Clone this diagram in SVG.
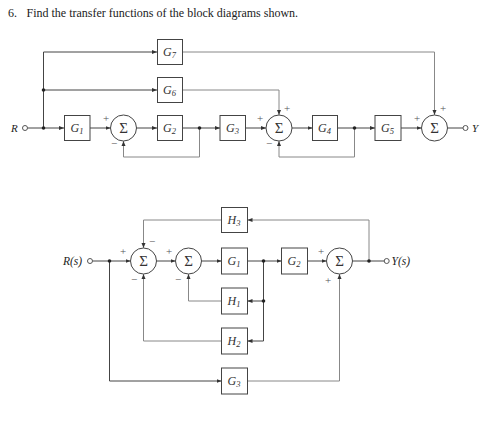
<svg xmlns="http://www.w3.org/2000/svg" width="498" height="438" viewBox="0 0 498 438">
<defs>
<marker id="ar" markerWidth="5" markerHeight="5" refX="5" refY="2.5" orient="auto" markerUnits="userSpaceOnUse">
<path d="M0,0.5 L5,2.5 L0,4.5 z" fill="#333"/>
</marker>
<style>
.ln{fill:none;stroke:#444;stroke-width:1}
.lt{fill:none;stroke:#888;stroke-width:1}
.bx{fill:#fff;stroke:#444;stroke-width:1}
.sm{fill:#fff;stroke:#444;stroke-width:1}
.tm{font-family:"Liberation Serif","Times New Roman",serif;fill:#222}
.lb{font-family:"Liberation Serif","Times New Roman",serif;font-style:italic;font-size:12px;fill:#333;text-anchor:middle}
.sub{font-size:8.5px}
.sig{font-family:"Liberation Serif","Times New Roman",serif;font-size:15px;fill:#333;text-anchor:middle}
.pm{font-family:"Liberation Serif","Times New Roman",serif;font-size:11px;fill:#555;text-anchor:middle}
.dot{fill:#222}
.io{fill:#fff;stroke:#555;stroke-width:1}
</style>
</defs>
<rect width="498" height="438" fill="#fff"/>
<text class="tm" x="8" y="17" font-size="12">6.</text>
<text class="tm" x="26.5" y="17" font-size="12">Find the transfer functions of the block diagrams shown.</text>

<g id="connectors">
<!-- top diagram -->
<path class="ln" d="M27.5,128 H64" marker-end="url(#ar)"/>
<path class="ln" d="M43.5,128 V52 H157" marker-end="url(#ar)"/>
<path class="ln" d="M43.5,90 H157" marker-end="url(#ar)"/>
<path class="ln" d="M90,128 H110.5" marker-end="url(#ar)"/>
<path class="ln" d="M136.5,128 H157" marker-end="url(#ar)"/>
<path class="ln" d="M182.5,128 H220" marker-end="url(#ar)"/>
<path class="lt" d="M199.5,128 V157 H123.5 V141" marker-end="url(#ar)"/>
<path class="ln" d="M245.5,128 H266" marker-end="url(#ar)"/>
<path class="lt" d="M182.5,90 H279 V115" marker-end="url(#ar)"/>
<path class="ln" d="M292,128 H312.5" marker-end="url(#ar)"/>
<path class="ln" d="M337.5,128 H375" marker-end="url(#ar)"/>
<path class="lt" d="M354.5,128 V157 H279 V141" marker-end="url(#ar)"/>
<path class="ln" d="M401,128 H421.5" marker-end="url(#ar)"/>
<path class="lt" d="M182.5,52 H434.5 V115" marker-end="url(#ar)"/>
<path class="ln" d="M447.5,128 H463"/>
<circle class="dot" cx="43.5" cy="128" r="1.8"/>
<circle class="dot" cx="43.5" cy="90" r="1.8"/>
<circle class="dot" cx="199.5" cy="128" r="1.8"/>
<circle class="dot" cx="354.5" cy="128" r="1.8"/>
<!-- bottom diagram -->
<path class="ln" d="M92.5,261 H130.5" marker-end="url(#ar)"/>
<path class="ln" d="M156.5,261 H175.5" marker-end="url(#ar)"/>
<path class="ln" d="M201.5,261 H221.5" marker-end="url(#ar)"/>
<path class="ln" d="M247.5,261 H281.5" marker-end="url(#ar)"/>
<path class="ln" d="M307.5,261 H326.5" marker-end="url(#ar)"/>
<path class="ln" d="M352.5,261 H384.2"/>
<path class="lt" d="M369,261 V220 H247.5" marker-end="url(#ar)"/>
<path class="lt" d="M221.5,220 H143.5 V248" marker-end="url(#ar)"/>
<path class="ln" d="M263.5,261 V341 H247.5" marker-end="url(#ar)"/>
<path class="ln" d="M263.5,301 H247.5" marker-end="url(#ar)"/>
<path class="lt" d="M221.5,301 H188.5 V274" marker-end="url(#ar)"/>
<path class="lt" d="M221.5,341 H143.5 V274" marker-end="url(#ar)"/>
<path class="ln" d="M109.5,261 V381 H221.5" marker-end="url(#ar)"/>
<path class="lt" d="M247.5,381 H339.5 V274" marker-end="url(#ar)"/>
<circle class="dot" cx="109.5" cy="261" r="1.8"/>
<circle class="dot" cx="263.5" cy="261" r="1.8"/>
<circle class="dot" cx="263.5" cy="301" r="1.8"/>
<circle class="dot" cx="369" cy="261" r="1.8"/>
</g>

<!-- top diagram nodes -->
<g id="R_top"><circle class="io" cx="25" cy="128" r="2.5"/><text class="tm" x="11" y="131.5" font-size="11" font-style="italic">R</text></g>
<g id="Y_top"><circle class="io" cx="465.5" cy="128" r="2.5"/><text class="tm" x="472" y="131.5" font-size="11" font-style="italic">Y</text></g>
<g id="G1"><rect class="bx" x="64.5" y="115.5" width="25.5" height="25"/><text class="lb" x="77" y="132">G<tspan class="sub" dy="2">1</tspan></text></g>
<g id="S1"><circle class="sm" cx="123.5" cy="128" r="13"/><text class="sig" x="123.5" y="133">Σ</text><text class="pm" x="106" y="122">+</text><text class="pm" x="114" y="147">−</text></g>
<g id="G7"><rect class="bx" x="157.5" y="39.5" width="25" height="25"/><text class="lb" x="169.5" y="56">G<tspan class="sub" dy="2">7</tspan></text></g>
<g id="G6"><rect class="bx" x="157.5" y="77.5" width="25" height="25"/><text class="lb" x="169.5" y="94">G<tspan class="sub" dy="2">6</tspan></text></g>
<g id="G2"><rect class="bx" x="157.5" y="115.5" width="25" height="25"/><text class="lb" x="169.5" y="132">G<tspan class="sub" dy="2">2</tspan></text></g>
<g id="G3"><rect class="bx" x="220" y="115.5" width="25.5" height="25"/><text class="lb" x="232.5" y="132">G<tspan class="sub" dy="2">3</tspan></text></g>
<g id="S2"><circle class="sm" cx="279" cy="128" r="13"/><text class="sig" x="279" y="133">Σ</text><text class="pm" x="260" y="122">+</text><text class="pm" x="287" y="112">+</text><text class="pm" x="269" y="147">−</text></g>
<g id="G4"><rect class="bx" x="312.5" y="115.5" width="25" height="25"/><text class="lb" x="324.5" y="132">G<tspan class="sub" dy="2">4</tspan></text></g>
<g id="G5"><rect class="bx" x="375" y="115.5" width="26" height="25"/><text class="lb" x="387.5" y="132">G<tspan class="sub" dy="2">5</tspan></text></g>
<g id="S3"><circle class="sm" cx="434.5" cy="128" r="13"/><text class="sig" x="434.5" y="133">Σ</text><text class="pm" x="417" y="122">+</text><text class="pm" x="443" y="112">+</text></g>

<!-- bottom diagram nodes -->
<g id="R_bot"><circle class="io" cx="90" cy="261" r="2.5"/><text class="tm" x="63" y="264.5" font-size="11.5" font-style="italic">R(s)</text></g>
<g id="Y_bot"><circle class="io" cx="386.7" cy="261" r="2.5"/><text class="tm" x="391.5" y="264.5" font-size="11.5" font-style="italic">Y(s)</text></g>
<g id="SA"><circle class="sm" cx="143.5" cy="261" r="13"/><text class="sig" x="143.5" y="266">Σ</text><text class="pm" x="123" y="255">+</text><text class="pm" x="152" y="245">−</text><text class="pm" x="134" y="283">−</text></g>
<g id="SB"><circle class="sm" cx="188.5" cy="261" r="13"/><text class="sig" x="188.5" y="266">Σ</text><text class="pm" x="169" y="255">+</text><text class="pm" x="178" y="283">−</text></g>
<g id="H3"><rect class="bx" x="221.5" y="207.5" width="26" height="25"/><text class="lb" x="234" y="224">H<tspan class="sub" dy="2">3</tspan></text></g>
<g id="G1b"><rect class="bx" x="221.5" y="248" width="26" height="26"/><text class="lb" x="234" y="265">G<tspan class="sub" dy="2">1</tspan></text></g>
<g id="H1"><rect class="bx" x="221.5" y="288" width="26" height="26"/><text class="lb" x="234" y="305">H<tspan class="sub" dy="2">1</tspan></text></g>
<g id="H2"><rect class="bx" x="221.5" y="328" width="26" height="26"/><text class="lb" x="234" y="345">H<tspan class="sub" dy="2">2</tspan></text></g>
<g id="G3b"><rect class="bx" x="221.5" y="368" width="26" height="26"/><text class="lb" x="234" y="385">G<tspan class="sub" dy="2">3</tspan></text></g>
<g id="G2b"><rect class="bx" x="281.5" y="248" width="26" height="26"/><text class="lb" x="294" y="265">G<tspan class="sub" dy="2">2</tspan></text></g>
<g id="SC"><circle class="sm" cx="339.5" cy="261" r="13"/><text class="sig" x="339.5" y="266">Σ</text><text class="pm" x="321" y="255">+</text><text class="pm" x="328" y="284">+</text></g>
</svg>
